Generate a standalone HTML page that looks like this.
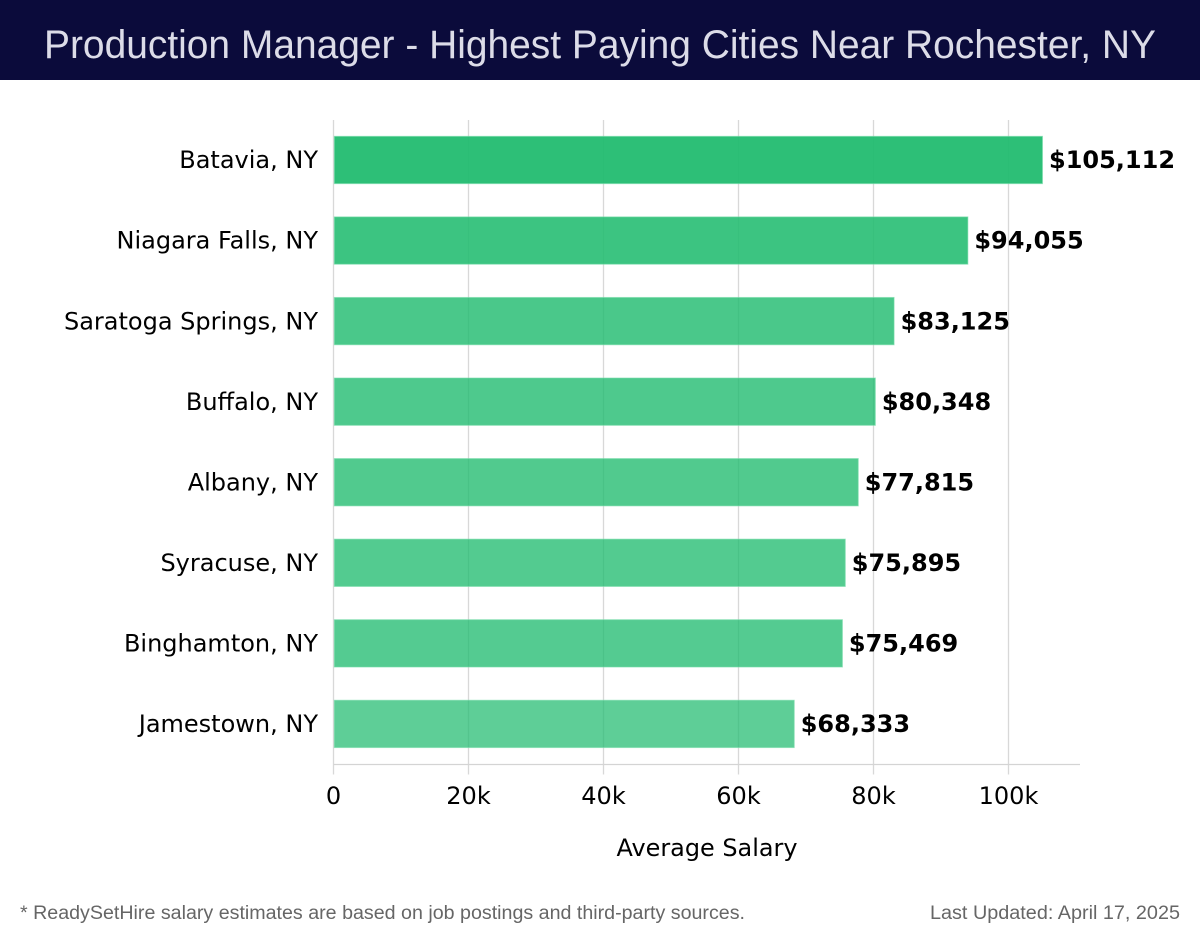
<!DOCTYPE html>
<html lang="en">
<head>
<meta charset="utf-8">
<title>Production Manager - Highest Paying Cities Near Rochester, NY</title>
<style>
html,body{margin:0;padding:0;background:#fff;width:1200px;height:940px;overflow:hidden}
svg{display:block}
text{font-family:"DejaVu Sans","Liberation Sans",sans-serif}
</style>
</head>
<body>
<svg id="chart" xmlns="http://www.w3.org/2000/svg" width="1200" height="940" viewBox="0 0 1200 940">
<rect x="0" y="0" width="1200" height="80" fill="#0b0b3b"/>
<text x="44" y="58" font-size="40" fill="#dcdce8" textLength="1112" lengthAdjust="spacingAndGlyphs" style="font-family:'Liberation Sans',sans-serif">Production Manager - Highest Paying Cities Near Rochester, NY</text>
<g id="grid"></g>
<g id="bars"></g>
<g id="axes"></g>
<text x="707" y="856" font-size="24" text-anchor="middle" fill="#000" textLength="181" lengthAdjust="spacingAndGlyphs">Average Salary</text>
<text x="20" y="919" font-size="19" fill="#666" textLength="725" lengthAdjust="spacingAndGlyphs" style="font-family:'Liberation Sans',sans-serif">* ReadySetHire salary estimates are based on job postings and third-party sources.</text>
<text x="1180" y="919" font-size="19" fill="#666" text-anchor="end" textLength="250" lengthAdjust="spacingAndGlyphs" style="font-family:'Liberation Sans',sans-serif">Last Updated: April 17, 2025</text>
</svg>
<script>
const cities = ["Batavia, NY","Niagara Falls, NY","Saratoga Springs, NY","Buffalo, NY","Albany, NY","Syracuse, NY","Binghamton, NY","Jamestown, NY"];
const salaries = [105112,94055,83125,80348,77815,75895,75469,68333];
const tickValues = [0,20000,40000,60000,80000,100000];
const tickLabels = ["0","20k","40k","60k","80k","100k"];

const NS = "http://www.w3.org/2000/svg";
const plot = {left:333.5, top:120, bottom:764.5, right:1080};
const pxPer20k = 135;
function xScale(v){ return plot.left + v / 20000 * pxPer20k; }
function bandTop(i){ return plot.top + i * (plot.bottom - plot.top) / cities.length; }
const bandH = (plot.bottom - plot.top) / cities.length;
function make(tag, attrs, parent){
  const el = document.createElementNS(NS, tag);
  for (const k in attrs) el.setAttribute(k, attrs[k]);
  parent.appendChild(el);
  return el;
}
const grid = document.getElementById('grid');
const bars = document.getElementById('bars');
const axes = document.getElementById('axes');
const maxV = Math.max(...salaries), minV = Math.min(...salaries);

tickValues.forEach(function(v, i){
  const x = xScale(v);
  const line = make('line', {x1:x, x2:x, y1:plot.top, y2:plot.bottom + 10, stroke:'#d8d8d8', 'stroke-width':1.3}, grid);
  
  
  const label = make('text', {x:x, y:804, 'font-size':24, 'text-anchor':'middle', fill:'#000'}, axes);
  
  
  label.textContent = tickLabels[i];
});

const baseline = make('line', {x1:plot.left, x2:plot.right, y1:plot.bottom, y2:plot.bottom, stroke:'#d4d4d4', 'stroke-width':1.2}, axes);



cities.forEach(function(city, i){
  const v = salaries[i];
  const h = bandH * 0.6 - 1;
  const y = bandTop(i) + (bandH - h) / 2 - 0.3;
  const op = 0.73 + 0.22 * (v - minV) / (maxV - minV);
  const bar = make('rect', {x:plot.left + 0.8, y:y, width:xScale(v) - plot.left - 1.3, height:h, fill:'rgb(34,188,112)', 'fill-opacity':op, stroke:'rgb(120,220,170)', 'stroke-opacity':0.6, 'stroke-width':1}, bars);
  
  
  const cy = y + h / 2 + 8.2;
  const cat = make('text', {x:318, y:cy, 'font-size':24, 'text-anchor':'end', fill:'#000'}, axes);
  
  
  cat.textContent = city;
  const val = make('text', {x:xScale(v) + 6, y:cy, 'font-size':24, 'font-weight':'bold', fill:'#000'}, bars);
  
  
  val.textContent = '$' + v.toLocaleString('en-US');
});
</script>
</body>
</html>
